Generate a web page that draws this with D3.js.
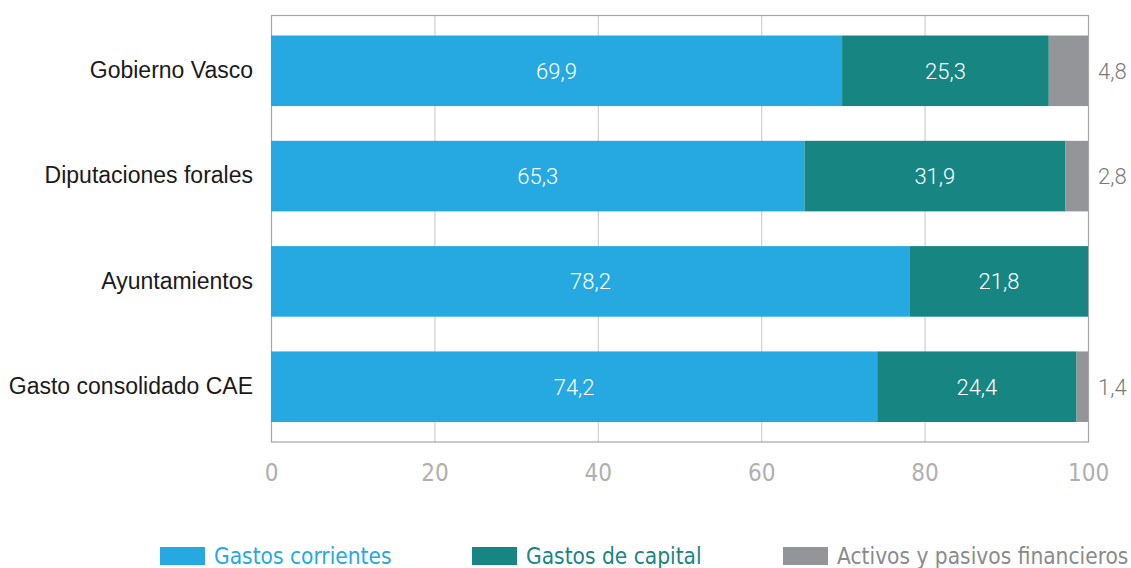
<!DOCTYPE html>
<html>
<head>
<meta charset="utf-8">
<script src="https://cdn.jsdelivr.net/npm/d3@7"></script>
<style>
  body { margin: 0; background: #fff; }
  svg { display: block; }
</style>
</head>
<body>
<div id="chart"></div>
<script>

var categories = ['Gobierno Vasco', 'Diputaciones forales', 'Ayuntamientos', 'Gasto consolidado CAE'];
var series = ['Gastos corrientes', 'Gastos de capital', 'Activos y pasivos financieros'];
var corrientes = [69.9, 65.3, 78.2, 74.2];
var capital = [25.3, 31.9, 21.8, 24.4];
var financieros = [4.8, 2.8, 0, 1.4];
var xTickValues = [0, 20, 40, 60, 80, 100];

var colors = ['#25a9e0', '#178582', '#939598'];

var width = 1131;
var height = 568;
var plotLeft = 271, plotRight = 1088, plotTop = 15.5, plotBottom = 442;
var condensed = "'DejaVu Sans Condensed', 'Liberation Sans Narrow', sans-serif";
var light = "Roboto, 'Liberation Sans', sans-serif";

var rows = [];
for (let i = 0; i < categories.length; i++) {
    rows.push({
        cat: categories[i],
        'Gastos corrientes': corrientes[i],
        'Gastos de capital': capital[i],
        'Activos y pasivos financieros': financieros[i]
    });
}

var stacked = d3.stack().keys(series)(rows);

var svg = d3.select('#chart')
    .append('svg')
        .attr('width', width)
        .attr('height', height);

var x = d3.scaleLinear()
    .domain([0, 100])
    .range([plotLeft, plotRight]);

var y = d3.scaleBand()
    .domain(categories)
    .range([plotTop, plotBottom])
    .paddingInner(0.33)
    .paddingOuter(0.19);

// gridlines
svg.append('g')
    .selectAll('line')
    .data(xTickValues.slice(1, -1))
    .enter().append('line')
        .attr('x1', d => x(d) + 0.5)
        .attr('x2', d => x(d) + 0.5)
        .attr('y1', plotTop)
        .attr('y2', plotBottom)
        .attr('stroke', '#cfcfcf')
        .attr('stroke-width', 1.2);

// frame
svg.append('rect')
    .attr('x', plotLeft + 0.5)
    .attr('y', plotTop)
    .attr('width', plotRight - plotLeft)
    .attr('height', plotBottom - plotTop)
    .attr('fill', 'none')
    .attr('stroke', '#a6a6a6')
    .attr('stroke-width', 1.2);

// bars
var layers = svg.append('g')
    .selectAll('g')
    .data(stacked)
    .enter().append('g')
        .attr('fill', (d, i) => colors[i]);

layers.selectAll('rect')
    .data(d => d)
    .enter().append('rect')
        .attr('x', d => x(d[0]))
        .attr('width', d => x(d[1]) - x(d[0]))
        .attr('y', d => y(d.data.cat))
        .attr('height', y.bandwidth());

// value labels inside (first two series)
stacked.slice(0, 2).forEach(function(layer) {
    svg.append('g')
        .selectAll('text')
        .data(layer)
        .enter().append('text')
            .attr('x', d => (x(d[0]) + x(d[1])) / 2)
            .attr('y', d => y(d.data.cat) + y.bandwidth() / 2)
            .attr('dy', '0.36em')
            .attr('text-anchor', 'middle')
            .attr('fill', '#ffffff')
            .style('font-family', light)
            .style('font-weight', 300)
            .style('font-size', '22px')
            .text(d => d3.format('.1f')(d[1] - d[0]).replace('.', ','));
});

// outside labels for the third series
svg.append('g')
    .selectAll('text')
    .data(stacked[2].filter(d => d[1] - d[0] > 0))
    .enter().append('text')
        .attr('x', plotRight + 10)
        .attr('y', d => y(d.data.cat) + y.bandwidth() / 2)
        .attr('dy', '0.36em')
        .attr('fill', '#7a7a7a')
        .style('font-family', light)
        .style('font-weight', 300)
        .style('font-size', '22px')
        .text(d => d3.format('.1f')(d[1] - d[0]).replace('.', ','));

// category labels
var yAxis = d3.axisLeft(y).tickSize(0).tickPadding(18);
var gy = svg.append('g')
    .attr('transform', 'translate(' + plotLeft + ',0)')
    .call(yAxis);
gy.select('.domain').remove();
gy.selectAll('text')
    .attr('fill', '#1a1a1a')
    .style('font-family', 'Liberation Sans, Arial, sans-serif')
    .style('font-size', '23px');

// x tick labels
var xAxis = d3.axisBottom(x).tickValues(xTickValues).tickSize(0).tickPadding(22);
var gx = svg.append('g')
    .attr('transform', 'translate(0,' + plotBottom + ')')
    .call(xAxis);
gx.select('.domain').remove();
gx.selectAll('text')
    .attr('fill', '#b0b0b0')
    .style('font-family', condensed)
    .style('font-weight', 300)
    .style('font-size', '24px');

// legend
var legendX = [160, 472, 783];
var legend = svg.append('g')
    .selectAll('g')
    .data(series)
    .enter().append('g')
        .attr('transform', (d, i) => 'translate(' + legendX[i] + ',547)');

legend.append('rect')
    .attr('width', 45)
    .attr('height', 18)
    .attr('fill', (d, i) => colors[i]);

legend.append('text')
    .attr('x', 54)
    .attr('y', 9)
    .attr('dy', '0.35em')
    .attr('fill', (d, i) => i == 2 ? '#8a8a8a' : colors[i])
    .style('font-family', condensed)
    .style('font-weight', 300)
    .style('font-size', '22.5px')
    .text(d => d);

</script>
</body>
</html>
